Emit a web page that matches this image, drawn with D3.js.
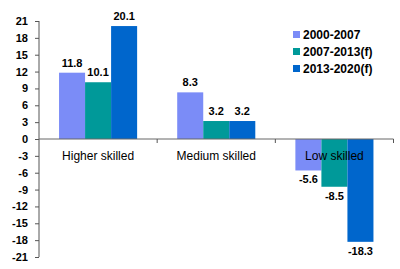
<!DOCTYPE html>
<html>
<head>
<meta charset="utf-8">
<script src="https://cdn.jsdelivr.net/npm/d3@7"></script>
<style>
  body { margin: 0; background: #fff; }
  svg { display: block; font-family: Arial, "Liberation Sans", sans-serif; }
</style>
</head>
<body>
<script>
const categories = ["Higher skilled", "Medium skilled", "Low skilled"];
const series = ["2000-2007", "2007-2013(f)", "2013-2020(f)"];
const values2000 = [11.8, 8.3, -5.6];
const values2007 = [10.1, 3.2, -8.5];
const values2013 = [20.1, 3.2, -18.3];
const yTicks = [-21, -18, -15, -12, -9, -6, -3, 0, 3, 6, 9, 12, 15, 18, 21];
const colors = ["#7b8cf7", "#009999", "#0066cc"];

const width = 400, height = 269;
const allValues = [values2000, values2007, values2013];

const svg = d3.select("body").append("svg")
    .attr("width", width)
    .attr("height", height);

const y = d3.scaleLinear().domain([-21, 21]).range([257, 21]);
const x0 = d3.scaleBand().domain(categories).range([39, 393.5]);
const x1 = d3.scaleBand().domain(series).range([0, x0.bandwidth()]).paddingOuter(0.77);

// bars
const groups = svg.selectAll("g.grp")
    .data(categories)
    .enter().append("g")
    .attr("class", "grp")
    .attr("transform", d => "translate(" + x0(d) + ",0)");

groups.selectAll("rect")
    .data((c, ci) => series.map((s, si) => ({ s: s, si: si, v: allValues[si][ci] })))
    .enter().append("rect")
    .attr("x", d => x1(d.s))
    .attr("width", x1.bandwidth())
    .attr("y", d => y(Math.max(0, d.v)))
    .attr("height", d => Math.abs(y(d.v) - y(0)))
    .attr("fill", d => colors[d.si]);

// value labels
groups.selectAll("text.val")
    .data((c, ci) => series.map((s, si) => ({ s: s, si: si, v: allValues[si][ci] })))
    .enter().append("text")
    .attr("class", "val")
    .attr("x", d => x1(d.s) + x1.bandwidth() / 2)
    .attr("y", d => d.v >= 0 ? y(d.v) - 6 : y(d.v) + 13)
    .attr("text-anchor", "middle")
    .attr("font-size", "11px")
    .attr("font-weight", "bold")
    .attr("fill", "#000")
    .text(d => d.v.toFixed(1));

// y axis
const yAxis = svg.append("g")
    .attr("transform", "translate(39,0)")
    .call(d3.axisLeft(y).tickValues(yTicks).tickFormat(d => String(d)).tickSize(4).tickPadding(7));
yAxis.select(".domain").attr("stroke", "#555").attr("d", "M0," + y(21) + "V" + y(-21));
yAxis.selectAll(".tick line").attr("stroke", "#555");
yAxis.selectAll(".tick text")
    .attr("font-size", "11px")
    .attr("font-weight", "bold")
    .attr("font-family", "Arial, 'Liberation Sans', sans-serif")
    .attr("fill", "#000");

// zero line with category ticks
const xAxis = svg.append("g").attr("transform", "translate(0," + y(0) + ")");
xAxis.append("line")
    .attr("x1", x0.range()[0]).attr("x2", x0.range()[1])
    .attr("stroke", "#666");
xAxis.selectAll("line.ct")
    .data(categories)
    .enter().append("line")
    .attr("class", "ct")
    .attr("x1", d => x0(d) + x0.bandwidth()).attr("x2", d => x0(d) + x0.bandwidth())
    .attr("y1", 0).attr("y2", 4)
    .attr("stroke", "#555");

// category labels
xAxis.selectAll("text")
    .data(categories)
    .enter().append("text")
    .attr("x", d => x0(d) + x0.bandwidth() / 2)
    .attr("y", 21)
    .attr("text-anchor", "middle")
    .attr("font-size", "12px")
    .attr("fill", "#000")
    .text(d => d);

// legend
const legend = svg.append("g").attr("transform", "translate(293,31)");
const items = legend.selectAll("g")
    .data(series)
    .enter().append("g")
    .attr("transform", (d, i) => "translate(0," + i * 17 + ")");
items.append("rect")
    .attr("width", 7).attr("height", 7)
    .attr("fill", (d, i) => colors[i]);
items.append("text")
    .attr("x", 10).attr("y", 8)
    .attr("font-size", "12px")
    .attr("font-weight", "bold")
    .attr("fill", "#000")
    .text(d => d);
</script>
</body>
</html>
